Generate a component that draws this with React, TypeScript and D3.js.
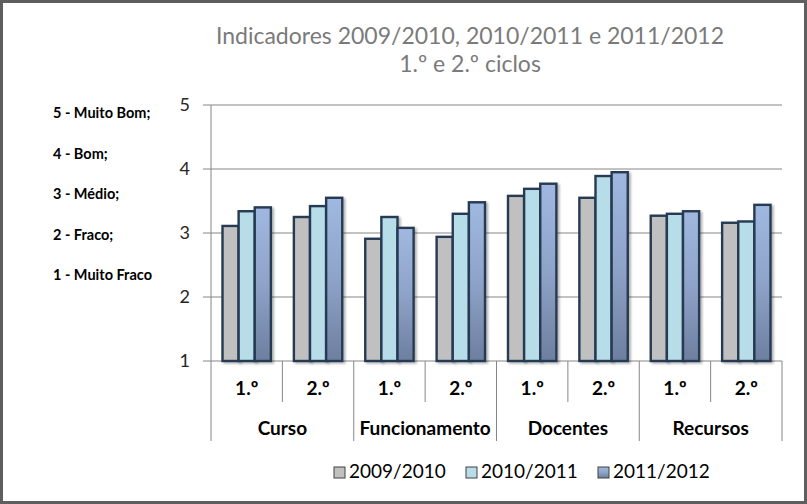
import React from 'react';
import * as d3 from 'd3';

// Data
const groups = ['Curso', 'Funcionamento', 'Docentes', 'Recursos'];
const cycles = ['1.º', '2.º'];
const seriesNames = ['2009/2010', '2010/2011', '2011/2012'];
const values2009 = [3.11, 3.25, 2.91, 2.94, 3.58, 3.55, 3.27, 3.16];
const values2010 = [3.34, 3.42, 3.25, 3.30, 3.69, 3.89, 3.30, 3.18];
const values2011 = [3.40, 3.55, 3.08, 3.48, 3.77, 3.95, 3.34, 3.44];
const yTicks = [1, 2, 3, 4, 5];
const scaleNotes = ['5 - Muito Bom;', '4 - Bom;', '3 - Médio;', '2 - Fraco;', '1 -  Muito Fraco'];

const W = 807;
const H = 504;
const plot = { left: 211, right: 782, top: 105, bottom: 361 };
const font = 'Lato, "Open Sans", sans-serif';

const App = () => {
  const subcats = groups.flatMap((g) => cycles.map((c) => `${g}|${c}`));
  const series = [values2009, values2010, values2011];

  const x = d3.scaleBand().domain(subcats).range([plot.left, plot.right]);
  const step = x.bandwidth();
  const inner = d3.scaleBand().domain(seriesNames).range([11.5, step - 11.5]);
  const y = d3.scaleLinear().domain([1, 5]).range([plot.bottom, plot.top]);

  const fills = ['#c0c0c0', '#b7dde8', 'url(#gradDark)'];
  const groupStep = step * cycles.length;

  return (
    <svg width={W} height={H} style={{ position: 'absolute', left: 0, top: 0 }}>
      <defs>
        <linearGradient id="gradDark" x1="0" y1="0" x2="0" y2="1">
          <stop offset="0" stopColor="#a0b8e0" />
          <stop offset="0.5" stopColor="#8ea3c8" />
          <stop offset="1" stopColor="#6d7f9f" />
        </linearGradient>
        <filter id="shadow" x="-20%" y="-5%" width="150%" height="115%">
          <feDropShadow dx="2" dy="1.5" stdDeviation="1.2" floodColor="#000" floodOpacity="0.3" />
        </filter>
      </defs>
      <rect x={0} y={0} width={W} height={H} fill="#fff" />
      <rect x={1.5} y={1.5} width={W - 3} height={H - 3} fill="none" stroke="#5e5e5e" strokeWidth={3} />

      {/* title */}
      <text x={470} y={44} textAnchor="middle" fontFamily={font} fontSize={23} fill="#7a7a7a">
        Indicadores 2009/2010, 2010/2011 e 2011/2012
      </text>
      <text x={470} y={72} textAnchor="middle" fontFamily={font} fontSize={23} fill="#7a7a7a">
        1.º e 2.º ciclos
      </text>

      {/* scale notes on the left */}
      {scaleNotes.map((t, i) => (
        <text key={t} x={53} y={118 + i * 40.5} fontFamily={font} fontSize={14.5} fontWeight="bold" fill="#000">
          {t}
        </text>
      ))}

      {/* gridlines and y axis */}
      {yTicks.map((t) => (
        <g key={t}>
          <line x1={plot.left - 8} x2={plot.right} y1={y(t)} y2={y(t)} stroke="#868686" strokeWidth={1} />
          <text x={190} y={y(t) + 6} textAnchor="end" fontFamily={font} fontSize={18} fill="#262626">
            {t}
          </text>
        </g>
      ))}
      <line x1={plot.left} x2={plot.left} y1={plot.top} y2={plot.bottom} stroke="#868686" />

      {/* bars */}
      {subcats.map((sc, i) => (
        <g key={sc} transform={`translate(${x(sc)},0)`}>
          {series.map((vals, s) => (
            <rect
              key={s}
              x={inner(seriesNames[s])}
              y={y(vals[i])}
              width={inner.bandwidth()}
              height={y(1) - y(vals[i])}
              fill={fills[s]}
              stroke="#263a52"
              strokeWidth={2.4}
              filter="url(#shadow)"
            />
          ))}
        </g>
      ))}

      {/* category axis */}
      {subcats.map((sc, i) => (
        <g key={sc}>
          <text
            x={(x(sc) as number) + step / 2}
            y={395}
            textAnchor="middle"
            fontFamily={font}
            fontSize={19}
            fontWeight="bold"
            fill="#000"
          >
            {cycles[i % cycles.length]}
          </text>
          {i % cycles.length === 1 && (
            <line
              x1={x(sc) as number}
              x2={x(sc) as number}
              y1={plot.bottom}
              y2={402}
              stroke="#868686"
            />
          )}
        </g>
      ))}
      {groups.map((g, gi) => (
        <text
          key={g}
          x={plot.left + gi * groupStep + groupStep / 2}
          y={435}
          textAnchor="middle"
          fontFamily={font}
          fontSize={19}
          fontWeight="bold"
          fill="#000"
        >
          {g}
        </text>
      ))}
      {d3.range(groups.length + 1).map((gi) => (
        <line
          key={gi}
          x1={plot.left + gi * groupStep}
          x2={plot.left + gi * groupStep}
          y1={plot.bottom}
          y2={441}
          stroke="#868686"
        />
      ))}

      {/* legend */}
      {seriesNames.map((n, s) => (
        <g key={n} transform={`translate(${334 + s * 132},467)`}>
          <rect x={0} y={0} width={11} height={11} fill={fills[s]} stroke="#404040" strokeWidth={1} />
          <text x={15} y={11} fontFamily={font} fontSize={19} fill="#000">
            {n}
          </text>
        </g>
      ))}
    </svg>
  );
};

export default App;
